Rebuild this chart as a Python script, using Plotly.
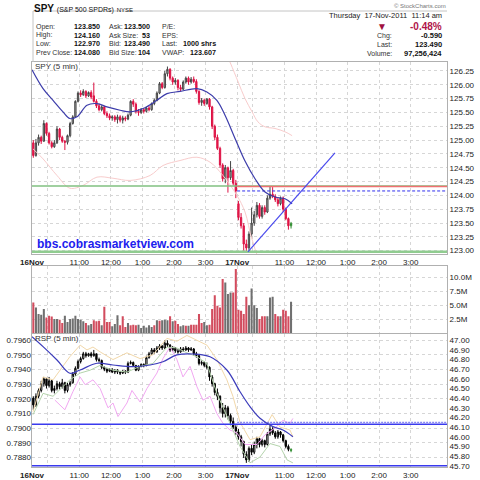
import plotly.graph_objects as go

# ---------------- DATA ----------------
# SPY 5-min OHLC: 16-Nov (78 bars) + 17-Nov (21 bars to 11:10)
spy_open = [124.95,124.72,124.95,125.05,124.98,125.30,125.12,124.95,124.88,124.95,
            125.20,125.05,124.98,124.96,125.08,125.30,125.42,125.70,125.85,125.82,
            125.88,125.80,125.86,125.80,125.70,125.62,125.55,125.60,125.48,125.44,
            125.40,125.42,125.37,125.42,125.36,125.40,125.38,125.45,125.70,125.65,
            125.52,125.50,125.55,125.52,125.58,125.55,125.66,125.72,125.85,126.02,
            125.95,126.20,126.28,126.12,126.05,126.08,125.95,125.92,126.05,126.12,
            126.05,126.10,126.06,125.88,125.68,125.72,125.66,125.74,125.60,125.25,
            125.05,124.85,124.55,124.30,124.50,124.32,124.45,124.22,
            123.85,123.60,123.45,123.12,123.05,123.30,123.50,123.65,123.82,123.62,
            123.78,123.70,123.95,124.02,123.98,123.92,123.85,123.95,123.75,123.58,123.45]
spy_close = [124.72,124.95,125.05,124.98,125.30,125.12,124.95,124.88,124.95,125.20,
             125.05,124.98,124.96,125.08,125.30,125.42,125.70,125.85,125.82,125.88,
             125.80,125.86,125.78,125.70,125.62,125.55,125.60,125.48,125.44,125.40,
             125.42,125.37,125.42,125.36,125.40,125.38,125.45,125.70,125.65,125.52,
             125.50,125.55,125.52,125.58,125.55,125.66,125.72,125.85,126.02,125.95,
             126.20,126.28,126.12,126.05,126.08,125.95,125.92,126.05,126.12,126.05,
             126.10,126.06,125.88,125.68,125.72,125.66,125.74,125.60,125.25,125.05,
             124.85,124.55,124.30,124.50,124.32,124.45,124.22,124.08,
             123.60,123.45,123.12,123.05,123.30,123.50,123.65,123.82,123.62,123.78,
             123.70,123.95,124.02,123.98,123.92,123.85,123.95,123.75,123.58,123.45,123.49]
spy_high = [125.00,125.02,125.10,125.08,125.36,125.32,125.15,124.98,125.00,125.25,
            125.22,125.08,125.00,125.10,125.33,125.45,125.72,125.88,125.90,125.92,
            125.90,125.88,125.90,126.04,125.74,125.66,125.63,125.62,125.52,125.48,
            125.45,125.45,125.46,125.45,125.44,125.43,125.48,125.72,125.74,125.68,
            125.56,125.58,125.58,125.60,125.62,125.68,125.75,125.88,126.05,126.05,
            126.25,126.33,126.30,126.15,126.12,126.10,126.00,126.08,126.15,126.15,
            126.14,126.15,126.10,125.90,125.76,125.75,125.76,125.76,125.62,125.28,
            125.10,124.88,124.58,124.55,124.52,124.62,124.48,124.28,
            123.90,123.68,123.50,123.20,123.35,123.78,123.72,123.88,123.86,123.82,
            123.82,124.00,124.16,124.15,124.02,123.96,123.98,123.98,123.78,123.60,123.52]
spy_low = [124.68,124.70,124.90,124.93,124.97,125.08,124.92,124.85,124.86,124.93,
           125.00,124.95,124.82,124.92,125.05,125.28,125.40,125.68,125.78,125.80,
           125.76,125.78,125.74,125.68,125.58,125.52,125.52,125.45,125.40,125.36,
           125.35,125.33,125.30,125.32,125.30,125.34,125.36,125.43,125.60,125.48,
           125.44,125.47,125.48,125.50,125.52,125.53,125.63,125.70,125.83,125.92,
           125.93,126.15,126.08,126.00,126.00,125.90,125.88,125.90,126.02,126.00,
           126.02,126.03,125.84,125.64,125.62,125.62,125.64,125.55,125.20,125.00,
           124.82,124.50,124.25,124.22,124.05,124.28,124.18,123.95,
           123.55,123.40,123.00,122.97,123.00,123.25,123.45,123.60,123.58,123.58,
           123.65,123.68,123.92,123.95,123.88,123.80,123.82,123.70,123.55,123.38,123.40]

# Volume in millions, and direction (r = down, g = up)
volume_m = [5.5,4.6,3.4,3.3,4.3,2.8,3.1,2.95,2.5,2.5,
            2.4,1.8,3.1,2.0,2.5,2.6,3.1,2.5,2.4,2.1,
            1.8,1.4,1.6,2.3,2.1,2.2,1.4,4.7,2.0,2.0,
            1.2,1.6,3.2,1.4,3.0,1.1,1.8,1.4,1.5,1.4,
            1.5,0.9,1.3,1.0,1.4,1.1,1.4,2.3,2.2,2.3,
            2.4,2.3,3.0,2.1,2.2,1.6,1.2,1.4,1.3,1.3,
            1.5,1.5,1.5,3.4,1.8,2.0,1.4,1.5,4.3,6.8,
            4.9,4.6,9.7,9.1,7.0,7.3,7.3,11.5,
            4.2,4.0,3.4,6.5,5.0,8.0,5.0,4.5,2.5,3.0,
            3.0,3.0,6.4,6.5,3.4,3.0,3.0,4.2,4.0,3.0,5.6]
volume_dir = ("rggggrrrgg" "rrgggggggg" "rggrrrgrrr" "gggrrrgrrr" "ggggggrgrg"
              "ggrgrrggrg" "rrrrrggrrr" "rrrgggrr" "rrrrggggrrrgggrrgrrrg")

# RSP 5-min OHLC
rsp_open = [46.40,46.33,46.42,46.48,46.55,46.60,46.53,46.58,46.48,46.50,
            46.55,46.52,46.56,46.48,46.54,46.56,46.65,46.71,46.78,46.81,
            46.86,46.84,46.86,46.84,46.86,46.80,46.79,46.72,46.70,46.68,
            46.70,46.67,46.69,46.67,46.66,46.68,46.67,46.76,46.77,46.74,
            46.69,46.73,46.75,46.74,46.82,46.86,46.90,46.88,46.92,46.94,
            46.92,46.97,46.95,46.90,46.92,46.89,46.88,46.91,46.90,46.92,
            46.90,46.91,46.86,46.84,46.76,46.77,46.74,46.72,46.62,46.55,
            46.46,46.42,46.30,46.24,46.30,46.22,46.16,46.10,
            46.05,46.00,45.95,45.82,45.76,45.88,45.84,45.92,45.98,45.92,
            45.96,45.92,46.03,46.08,46.04,46.00,46.05,46.02,45.96,45.90,45.87]
rsp_close = [46.33,46.42,46.48,46.55,46.60,46.53,46.58,46.48,46.50,46.55,
             46.52,46.56,46.48,46.54,46.56,46.65,46.71,46.78,46.81,46.86,
             46.84,46.86,46.84,46.86,46.80,46.79,46.72,46.70,46.68,46.70,
             46.67,46.69,46.67,46.66,46.68,46.67,46.76,46.77,46.74,46.69,
             46.73,46.75,46.74,46.82,46.86,46.90,46.88,46.92,46.94,46.92,
             46.97,46.95,46.90,46.92,46.89,46.88,46.91,46.90,46.92,46.90,
             46.91,46.86,46.84,46.76,46.77,46.74,46.72,46.62,46.55,46.46,
             46.42,46.30,46.24,46.30,46.22,46.16,46.10,46.06,
             46.00,45.95,45.82,45.76,45.88,45.84,45.92,45.98,45.92,45.96,
             45.92,46.03,46.08,46.04,46.00,46.05,46.02,45.96,45.90,45.87,45.86]
rsp_high = [46.42,46.45,46.50,46.58,46.62,46.61,46.62,46.59,46.53,46.58,
            46.57,46.60,46.57,46.56,46.58,46.67,46.73,46.80,46.83,46.88,
            46.88,46.87,46.88,46.90,46.86,46.82,46.80,46.73,46.71,46.71,
            46.71,46.70,46.70,46.68,46.69,46.69,46.78,46.79,46.78,46.74,
            46.74,46.76,46.76,46.84,46.88,46.92,46.92,46.94,46.96,46.95,
            47.00,47.00,46.96,46.94,46.93,46.91,46.93,46.93,46.94,46.93,
            46.93,46.92,46.88,46.85,46.79,46.78,46.77,46.73,46.64,46.56,
            46.50,46.43,46.35,46.33,46.32,46.24,46.20,46.12,
            46.08,46.02,45.96,45.85,45.90,45.92,45.95,46.00,45.99,45.98,
            45.97,46.05,46.12,46.10,46.06,46.07,46.06,46.03,45.97,45.92,45.88]
rsp_low = [46.28,46.31,46.40,46.46,46.52,46.50,46.51,46.46,46.45,46.48,
           46.49,46.50,46.45,46.46,46.52,46.55,46.63,46.70,46.76,46.80,
           46.82,46.83,46.82,46.83,46.78,46.77,46.70,46.68,46.66,46.67,
           46.66,46.65,46.65,46.64,46.65,46.65,46.66,46.75,46.73,46.68,
           46.68,46.72,46.72,46.73,46.81,46.85,46.86,46.87,46.90,46.90,
           46.91,46.93,46.88,46.88,46.87,46.86,46.87,46.88,46.89,46.88,
           46.89,46.84,46.82,46.74,46.74,46.72,46.70,46.58,46.52,46.43,
           46.38,46.25,46.20,46.20,46.18,46.12,46.08,46.02,
           45.97,45.90,45.78,45.73,45.74,45.81,45.82,45.88,45.89,45.90,
           45.89,45.91,46.01,46.02,45.98,45.98,45.99,45.94,45.88,45.85,45.84]

# Overlays (bar position, value)
spy_ma_x = [0,4.2,8.0,11.8,14.4,17.1,20.9,24.7,28.5,33.5,37.3,42.2,47.5,51.3,56.3,62.7,66.5,70.3,73.4,77.2,81.0,84.8,88.6,92.4,96.2,98.9]
spy_ma_y = [126.27,125.93,125.72,125.51,125.39,125.42,125.63,125.66,125.60,125.54,125.51,125.57,125.72,125.84,125.88,125.93,125.87,125.72,125.45,125.03,124.62,124.30,124.06,123.97,123.94,123.85]
bb_lo_x = [0.4,4.2,9.5,14.4,19.4,24.7,30.8,37.3,44.9,49.8,56.3,62.7,67.7,72.6,77.9,81.0,83.7,87.5,98.9]
bb_lo_y = [124.84,124.66,124.36,124.13,124.18,124.33,124.31,124.27,124.36,124.54,124.63,124.69,124.60,124.36,124.00,123.70,123.20,122.80,122.70]
bb_up_x = [70.0,75.3,78.4,81.0,83.7,85.9,88.6,92.4,96.2,98.9]
bb_up_y = [127.00,126.41,126.05,125.75,125.51,125.33,125.24,125.21,125.15,125.08]
trend_x = [82.1, 115.2]
trend_y = [122.98, 124.77]

rsp_ma_x = [0,4.2,9.5,14.4,18.3,24.7,30.8,38.4,44.9,49.8,55.1,61.2,67.7,74.1,79.1,82.9,86.7,91.6,95.4,99.2]
rsp_ma_y = [47.037,46.934,46.796,46.658,46.692,46.762,46.744,46.726,46.744,46.778,46.848,46.858,46.830,46.692,46.467,46.312,46.192,46.105,46.070,46.001]
orange_x = [0.4,4.2,8.0,14.4,18.3,20.9,23.2,25.9,30.8,36.1,41.1,46.0,51.3,55.1,58.9,62.7,66.5,70.3,74.1,76.4,79.1,82.9,86.7,91.3,94.3,98.1,99.2]
orange_y = [46.26,46.62,46.59,46.83,46.95,46.90,46.93,46.88,46.80,46.87,46.81,46.85,47.02,46.99,47.05,47.00,46.95,46.80,46.59,46.42,46.15,45.97,46.00,46.23,46.10,46.07,46.00]
green_x = [0.4,4.2,8.0,14.4,18.3,22.1,25.9,30.8,36.1,41.1,46.0,51.3,55.1,58.9,62.7,66.5,70.3,74.1,76.4,79.1,82.9,86.7,90.5,94.3,97.0,99.2]
green_y = [46.23,46.45,46.42,46.59,46.66,46.69,46.74,46.69,46.67,46.73,46.76,46.93,46.92,46.87,46.83,46.76,46.45,46.21,46.07,45.90,45.73,45.79,45.93,45.90,45.76,45.73]
pink_x = [8.7,12.5,15.6,18.3,20.2,23.2,25.9,28.9,30.8,32.7,36.1,38.0,41.1,43.7,47.5,49.8,52.5,55.1,57.4,60.1,62.7,65.0,67.7,70.3,72.6,75.3,77.9,81.0,85.6,88.6,92.4,95.4,98.1,99.2]
pink_y = [46.38,46.28,46.47,46.62,46.54,46.59,46.50,46.30,46.35,46.21,46.35,46.48,46.36,46.50,46.66,46.81,46.93,46.80,46.62,46.73,46.52,46.38,46.42,46.24,46.14,46.07,46.04,45.92,45.92,46.02,46.09,46.17,46.14,46.19]

# Horizontal levels
spy_green_hi = 124.17
spy_red_hi = 124.16
spy_prev_close = 124.08
spy_green_lo = 122.98
rsp_line_hi = 46.13
rsp_dot_hi = 46.15
rsp_line_lo = 45.70

# Axis ticks
x_tick_vals = [0, 6, 18, 30, 42, 54, 66, 78, 84, 96, 108, 120, 132, 144]
x_tick_text = ["<b>16Nov</b>", "", "11:00", "12:00", "1:00", "2:00", "3:00",
               "<b>17Nov</b>", "", "11:00", "12:00", "1:00", "2:00", "3:00"]
spy_ticks = [123.00,123.25,123.50,123.75,124.00,124.25,124.50,124.75,125.00,125.25,125.50,125.75,126.00,126.25]
vol_ticks = [2.5, 5.0, 7.5, 10.0]
vol_tick_text = ["2.5M", "5.0M", "7.5M", "10.0M"]
rsp_ticks = [45.7,45.8,45.9,46.0,46.1,46.2,46.3,46.4,46.5,46.6,46.7,46.8,46.9,47.0]
ratio_ticks = [0.7880,0.7890,0.7900,0.7910,0.7920,0.7930,0.7940,0.7950,0.7960]

# ---------------- FIGURE ----------------
FONT = "Liberation Sans"
n = len(spy_close)
bar_x = [k + 0.5 for k in range(n)]
last = n - 1
X_END = 157.8
DAY2 = 78

fig = go.Figure()

def candles(o, h, l, c, xa, ya, inc_line, inc_fill, dec_line, dec_fill, rng):
    fig.add_trace(go.Candlestick(
        x=[bar_x[k] for k in rng], open=[o[k] for k in rng], high=[h[k] for k in rng],
        low=[l[k] for k in rng], close=[c[k] for k in rng], xaxis=xa, yaxis=ya,
        increasing=dict(line=dict(color=inc_line, width=1), fillcolor=inc_fill),
        decreasing=dict(line=dict(color=dec_line, width=1), fillcolor=dec_fill),
        hoverinfo="skip", showlegend=False))

def line(xs, ys, xa, ya, color, width=1.0, dash="solid", shape="linear"):
    fig.add_trace(go.Scatter(x=xs, y=ys, xaxis=xa, yaxis=ya, mode="lines",
                             line=dict(color=color, width=width, dash=dash, shape=shape),
                             hoverinfo="skip", showlegend=False))

# --- price panel ---
line(bb_lo_x, bb_lo_y, "x", "y", "#f8cccc", 1.0, shape="spline")
line(bb_up_x, bb_up_y, "x", "y", "#f8cccc", 1.0, shape="spline")
line([0, X_END], [spy_green_lo, spy_green_lo], "x", "y", "#90cc90", 2.5)
line([0, X_END], [spy_green_hi, spy_green_hi], "x", "y", "#80c080", 1.5)
line([DAY2, X_END], [spy_red_hi, spy_red_hi], "x", "y", "#f07070", 1.5)
line([DAY2, X_END], [spy_prev_close, spy_prev_close], "x", "y", "#3030ee", 1.0, dash="3px,2px")
line(spy_ma_x, spy_ma_y, "x", "y", "#3c3caa", 1.2, shape="spline")
candles(spy_open, spy_high, spy_low, spy_close, "x", "y",
        "#444444", "#b4b4b4", "#dd1144", "#e81e4c", range(0, last))
candles(spy_open, spy_high, spy_low, spy_close, "x", "y",
        "#2d8a2d", "#8fd88f", "#2d8a2d", "#8fd88f", [last])
line(trend_x, trend_y, "x", "y", "#4848ee", 1.2)

# --- volume panel ---
vol_colors = ["#d24c5e" if d == "r" else "#707070" for d in volume_dir]
fig.add_trace(go.Bar(x=bar_x, y=volume_m, xaxis="x2", yaxis="y2", width=0.78,
                     marker=dict(color=vol_colors, line=dict(width=0)),
                     hoverinfo="skip", showlegend=False))

# --- RSP panel ---
line(pink_x, pink_y, "x3", "y3", "#f2a8f2", 1.0)
line(orange_x, orange_y, "x3", "y3", "#f2d8aa", 1.0)
line(green_x, green_y, "x3", "y3", "#b4d4ac", 1.0)
line([0, X_END], [rsp_line_hi, rsp_line_hi], "x3", "y3", "#3a3aee", 1.3)
line([DAY2, X_END], [rsp_dot_hi, rsp_dot_hi], "x3", "y3", "#6a6af0", 1.0, dash="2px,1px")
line([0, X_END], [rsp_line_lo, rsp_line_lo], "x3", "y3", "#3a3aee", 1.3)
line(rsp_ma_x, rsp_ma_y, "x3", "y3", "#3c3cbb", 1.2, shape="spline")
candles(rsp_open, rsp_high, rsp_low, rsp_close, "x3", "y3",
        "#000000", "#ffffff", "#000000", "#000000", range(0, last))
candles(rsp_open, rsp_high, rsp_low, rsp_close, "x3", "y3",
        "#2d8a2d", "#8fd88f", "#2d8a2d", "#8fd88f", [last])

# ---------------- LAYOUT ----------------
def py(p):
    return 1 - p / 480.0

XDOM = [32 / 480.0, 447 / 480.0]
grid = dict(showgrid=True, gridcolor="#d6d6d6", griddash="dot", gridwidth=1)
frame = dict(showline=True, mirror=True, linecolor="#b0b0b0", linewidth=1, zeroline=False,
             ticks="", automargin=False)
tickfont = dict(family=FONT, size=8, color="#222222")

xbase = dict(range=[0, X_END], tickmode="array", tickvals=x_tick_vals, ticktext=x_tick_text,
             domain=XDOM, tickfont=tickfont, rangeslider=dict(visible=False), **grid, **frame)

fig.update_layout(
    width=480, height=480, margin=dict(l=0, r=0, t=0, b=0, pad=0, autoexpand=False),
    paper_bgcolor="white", plot_bgcolor="white", showlegend=False,
    font=dict(family=FONT, size=8, color="#222222"),
    xaxis=dict(anchor="y", showticklabels=True, **xbase),
    xaxis2=dict(anchor="y2", matches="x", showticklabels=False, **xbase),
    xaxis3=dict(anchor="y3", matches="x", showticklabels=True, **xbase),
    yaxis=dict(domain=[py(254), py(62)], range=[122.94, 126.412], side="right", anchor="x",
               tickmode="array", tickvals=spy_ticks, ticktext=["%.2f" % v for v in spy_ticks],
               tickfont=tickfont, **grid, **frame),
    yaxis2=dict(domain=[py(333), py(265.7)], range=[0, 12.1], side="right", anchor="x2",
                tickmode="array", tickvals=vol_ticks, ticktext=vol_tick_text,
                tickfont=tickfont, **grid, **frame),
    yaxis3=dict(domain=[py(467), py(334)], range=[45.687, 47.065], side="right", anchor="x3",
                tickmode="array", tickvals=rsp_ticks, ticktext=["%.2f" % v for v in rsp_ticks],
                tickfont=tickfont, showgrid=False, **frame),
    yaxis4=dict(domain=[py(467), py(334)], range=[0.78736, 0.79641], side="left", anchor="x3",
                overlaying="y3", tickmode="array", tickvals=ratio_ticks,
                ticktext=["%.4f" % v for v in ratio_ticks], tickfont=tickfont,
                showgrid=True, gridcolor="#d6d6d6", griddash="dot", zeroline=False,
                showline=False, ticks="", automargin=False),
)
# dummy trace to activate left ratio axis
fig.add_trace(go.Scatter(x=[None], y=[None], xaxis="x3", yaxis="y4", showlegend=False))

# ---------------- TEXT ----------------
def txt(x, y, s, size=8, color="#222222", anchor="left", bold=False):
    fig.add_annotation(x=x / 480.0, y=py(y), xref="paper", yref="paper", text=("<b>%s</b>" % s) if bold else s,
                       showarrow=False, xanchor=anchor, yanchor="middle",
                       font=dict(family=FONT, size=size, color=color), borderpad=0)

txt(33, 8, "<b>SPY</b> <span style='font-size:7px'>(S&P 500 SPDRs)</span> <span style='font-size:6px'>NYSE</span>",
    size=10, color="#111111")
txt(447, 6, "© StockCharts.com", size=6, color="#777777", anchor="right")

rows = [("Open:", "123.850", "Ask:", "123.500", "P/E:", ""),
        ("High:", "124.160", "Ask Size:", "53", "EPS:", ""),
        ("Low:", "122.970", "Bid:", "123.490", "Last:", "1000 shrs"),
        ("Prev Close:", "124.080", "Bid Size:", "104", "VWAP:", "123.607")]
row_y = [26.7, 35.2, 43.6, 52.0]
for (l1, v1, l2, v2, l3, v3), yy in zip(rows, row_y):
    txt(35, yy, l1, 7, "#333333")
    txt(101, yy, v1, 7.2, "#111111", "right", True)
    txt(108, yy, l2, 7, "#333333")
    txt(151, yy, v2, 7.2, "#111111", "right", True)
    txt(161, yy, l3, 7, "#333333")
    if v3:
        txt(217, yy, v3, 7.2, "#111111", "right", True)

txt(443, 16, "Thursday  17-Nov-2011  11:14 am", 7.5, "#222222", "right")
txt(382, 26, "▼", 10, "#a01040", "center")
txt(443, 26, "-0.48%", 10, "#b0144a", "right", True)
txt(376, 35.5, "Chg:", 7, "#333333")
txt(443, 35.5, "-0.590", 7.5, "#111111", "right", True)
txt(376, 44.5, "Last:", 7, "#333333")
txt(443, 44.5, "123.490", 7.5, "#111111", "right", True)
txt(366, 53.5, "Volume:", 7, "#333333")
txt(443, 53.5, "97,256,424", 7.5, "#111111", "right", True)

txt(34, 66.5, "SPY (5 min)", 8, "#333333")
txt(34, 338.5, "RSP (5 min)", 8, "#333333")
txt(36, 244, "bbs.cobrasmarketview.com", 12, "#2020ee", "left", True)

# header frame
fig.add_shape(type="line", xref="paper", yref="paper", x0=33 / 480, x1=447 / 480, y0=py(11), y1=py(11),
              line=dict(color="#c4c4c4", width=1))
fig.add_shape(type="line", xref="paper", yref="paper", x0=33 / 480, x1=33 / 480, y0=py(11), y1=py(62),
              line=dict(color="#c4c4c4", width=1))

fig.write_html("out.html")
